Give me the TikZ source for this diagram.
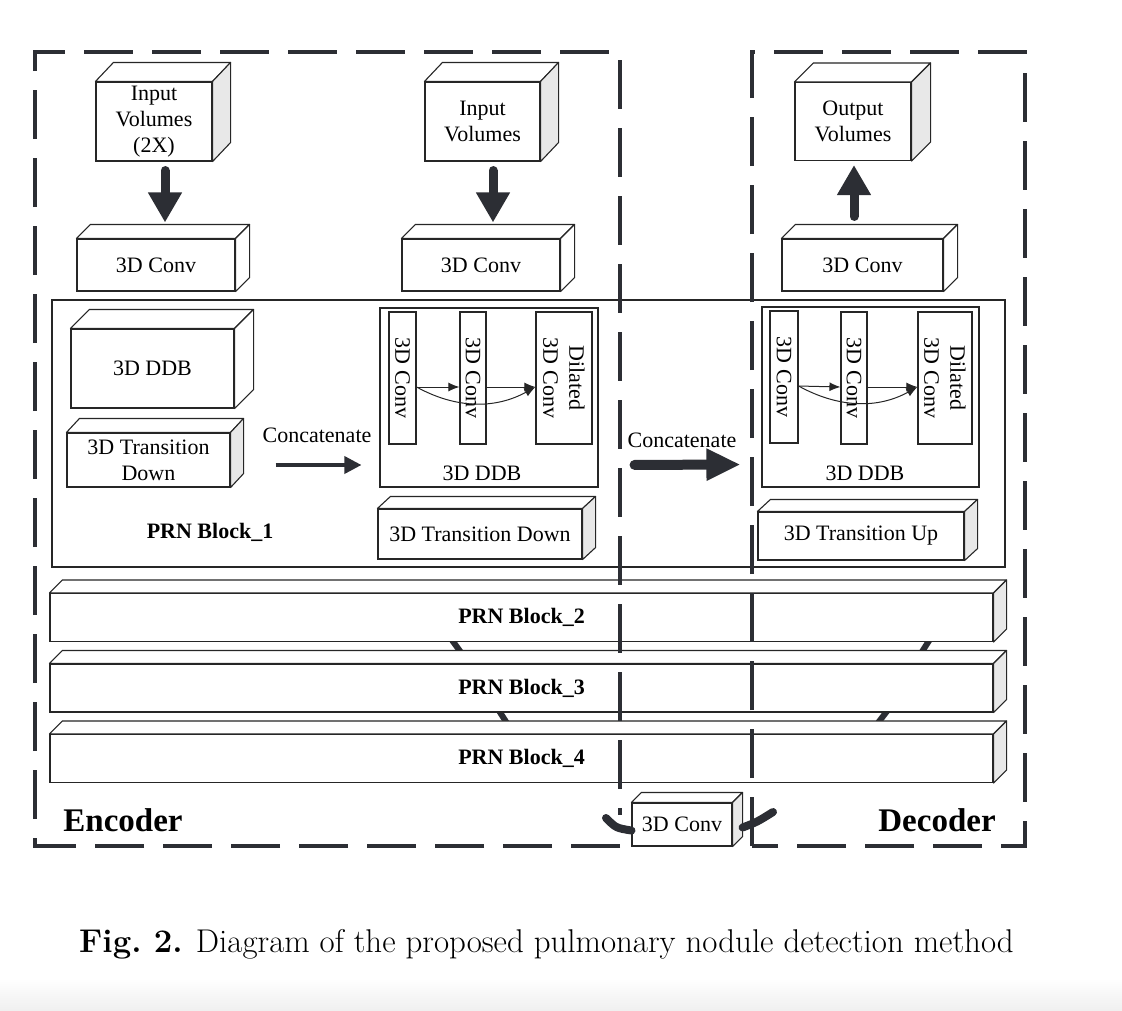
\documentclass[tikz,border=0pt]{standalone}
\usepackage{fontspec}
\usepackage{xcolor}
\usepackage{tikz}
\usetikzlibrary{arrows.meta}
\newfontfamily\timesfont{Liberation Serif}
\definecolor{inkgray}{RGB}{44,46,52}
\definecolor{sidegray}{RGB}{232,232,232}
\tikzstyle{cube}=[fill=white, draw=black!85, line width=1.1pt, shape=rectangle, inner sep=0pt, align=center, font=\timesfont\fontsize{22}{26}\selectfont]
\tikzstyle{bold cube}=[cube, font=\timesfont\bfseries\fontsize{22}{26}\selectfont]
\tikzstyle{slab}=[cube, rotate=-90]
\tikzstyle{ddb frame}=[draw=black!85, line width=1.1pt, shape=rectangle, inner sep=0pt]
\tikzstyle{plain text}=[inner sep=0pt, font=\timesfont\fontsize{22}{26}\selectfont]
\tikzstyle{bold text}=[inner sep=0pt, font=\timesfont\bfseries\fontsize{22}{26}\selectfont]
\tikzstyle{big text}=[inner sep=0pt, font=\timesfont\bfseries\fontsize{33}{38}\selectfont]
\tikzstyle{dashed edge}=[-, draw=inkgray, line width=4pt, dash pattern=on 49pt off 19pt]
\tikzstyle{fat arrow}=[-{Triangle[width=32pt,length=30pt]}, draw=inkgray, line width=9pt, line cap=round]
\tikzstyle{wide arrow}=[-{Triangle[width=30pt,length=34pt]}, draw=inkgray, line width=10pt, line cap=round]
\tikzstyle{mid arrow}=[-{Triangle[width=17pt,length=17pt]}, draw=inkgray, line width=3.5pt]
\tikzstyle{thin arrow}=[-{Latex[width=9pt,length=11pt]}, draw=black!85, line width=1pt]
\tikzstyle{skip edge}=[-, draw=inkgray, line width=6pt]
\tikzstyle{swoosh}=[-, draw=inkgray, line width=8pt, line cap=round]
% top and side face of a box node: name, depth x, depth y, side colour
\newcommand{\cubefaces}[4]{%
  \draw [draw=black!85, line width=1.1pt, fill=white, line join=round] (#1.north west) -- ++(#2,-#3) -- ([shift={(#2,-#3)}]#1.north east) -- (#1.north east) -- cycle;
  \draw [draw=black!85, line width=1.1pt, fill=#4, line join=round] (#1.north east) -- ++(#2,-#3) -- ([shift={(#2,-#3)}]#1.south east) -- (#1.south east) -- cycle;}
\pgfdeclarelayer{backlayer}
\pgfdeclarelayer{nodelayer}
\pgfdeclarelayer{edgelayer}
\pgfsetlayers{backlayer,nodelayer,edgelayer,main}
\begin{document}
\begin{tikzpicture}[x=1pt, y=-1pt]
	\useasboundingbox (0,0) rectangle (1122,1010);
	\begin{pgfonlayer}{backlayer}
		\shade [top color=white, bottom color=black!6] (0,978) rectangle (1122,1010);
		\coordinate (33) at (449,636);
		\coordinate (34) at (465,658);
		\coordinate (35) at (932,636);
		\coordinate (36) at (918,658);
		\coordinate (37) at (496,706);
		\coordinate (38) at (510,728);
		\coordinate (39) at (891,706);
		\coordinate (40) at (874,728);
		\draw [style=skip edge] (33) -- (34);
		\draw [style=skip edge] (35) -- (36);
		\draw [style=skip edge] (37) -- (38);
		\draw [style=skip edge] (39) -- (40);
	\end{pgfonlayer}
	\begin{pgfonlayer}{nodelayer}
		\node [style=cube, minimum width=116pt, minimum height=79pt] (0) at (154, 121.5) {Input\\Volumes\\(2X)};
		\cubefaces{0}{18}{19}{sidegray}
		\node [style=cube, minimum width=115pt, minimum height=79pt] (1) at (482.5, 121.5) {Input\\Volumes};
		\cubefaces{1}{18}{19}{sidegray}
		\node [style=cube, minimum width=116pt, minimum height=78pt] (2) at (853, 121.5) {Output\\Volumes};
		\cubefaces{2}{19}{19}{sidegray}
		\node [style=cube, minimum width=158pt, minimum height=52pt] (3) at (156, 265) {3D Conv};
		\cubefaces{3}{14}{14}{white}
		\node [style=cube, minimum width=158pt, minimum height=52pt] (4) at (481, 265) {3D Conv};
		\cubefaces{4}{14}{14}{white}
		\node [style=cube, minimum width=161pt, minimum height=52pt] (5) at (862.5, 265) {3D Conv};
		\cubefaces{5}{14}{14}{white}
		\node [style=ddb frame, minimum width=953pt, minimum height=267pt] (6) at (528.5, 433.5) {};
		\node [style=cube, minimum width=163pt, minimum height=79pt] (7) at (152.5, 368.5) {3D DDB};
		\cubefaces{7}{19}{19}{white}
		\node [style=cube, minimum width=163pt, minimum height=54pt] (8) at (148.5, 460) {3D Transition\\Down};
		\cubefaces{8}{13}{14}{sidegray}
		\node [style=plain text] (9) at (317, 435) {Concatenate};
		\node [style=bold text] (10) at (210, 532) {PRN Block\_1};
		\node [style=ddb frame, minimum width=218pt, minimum height=179pt] (11) at (489, 397.5) {};
		\node [style=slab, minimum width=132pt, minimum height=27pt] (12) at (402.5, 378) {3D Conv};
		\node [style=slab, minimum width=132pt, minimum height=26pt] (13) at (473, 378) {3D Conv};
		\node [style=slab, minimum width=132pt, minimum height=56pt] (14) at (564, 378) {Dilated\\3D Conv};
		\node [style=plain text] (15) at (482, 473) {3D DDB};
		\node [style=cube, minimum width=204pt, minimum height=50pt] (16) at (480, 534) {3D Transition Down};
		\cubefaces{16}{13}{12}{sidegray}
		\node [style=plain text] (17) at (682, 440) {Concatenate};
		\node [style=ddb frame, minimum width=217pt, minimum height=180pt] (18) at (870.5, 397) {};
		\node [style=slab, minimum width=132pt, minimum height=28pt] (19) at (784, 377) {3D Conv};
		\node [style=slab, minimum width=132pt, minimum height=26pt] (20) at (854, 378) {3D Conv};
		\node [style=slab, minimum width=132pt, minimum height=54pt] (21) at (945, 378) {Dilated\\3D Conv};
		\node [style=plain text] (22) at (865, 473) {3D DDB};
		\node [style=cube, minimum width=206pt, minimum height=48pt] (23) at (861, 536) {3D Transition Up};
		\cubefaces{23}{13}{12}{sidegray}
		\node [style=bold cube, minimum width=943pt, minimum height=48pt] (24) at (521.5, 617.5) {PRN Block\_2};
		\cubefaces{24}{13}{13}{sidegray}
		\node [style=bold cube, minimum width=943pt, minimum height=48pt] (25) at (521.5, 688) {PRN Block\_3};
		\cubefaces{25}{13}{13}{sidegray}
		\node [style=bold cube, minimum width=943pt, minimum height=48pt] (26) at (521.5, 758.5) {PRN Block\_4};
		\cubefaces{26}{13}{13}{sidegray}
		\node [style=cube, minimum width=100pt, minimum height=43pt] (27) at (682, 824.5) {3D Conv};
		\cubefaces{27}{10}{10}{sidegray}
		\node [style=big text] (28) at (123, 820) {Encoder};
		\node [style=big text] (29) at (937, 820) {Decoder};
		\node [inner sep=0pt, font=\fontsize{32.9}{38}\selectfont] (30) at (546.5, 944) {\textbf{Fig.~2.} Diagram of the proposed pulmonary nodule detection method};
	\end{pgfonlayer}
	\begin{pgfonlayer}{edgelayer}
		\draw [style=dashed edge] (620,846) -- (35,846) -- (35,52) -- (620,52) -- (620,815);
		\draw [style=dashed edge] (752,846) -- (752,52) -- (1025,52) -- (1025,846) -- cycle;
		\coordinate (31) at (606,818);
		\coordinate (32) at (773,812);
		\draw [style=swoosh] (31) .. controls (616,828) .. ([yshift=-6pt]27.west);
		\draw [style=swoosh] ([xshift=10pt, yshift=-3pt]27.east) .. controls (757,822) .. (32);
		\draw [style=fat arrow, shorten <=9pt, shorten >=16pt] ([xshift=11pt]0.south) -- ([xshift=11pt]0.south |- 3.north);
		\draw [style=fat arrow, shorten <=9pt, shorten >=16pt] ([xshift=10.5pt]1.south) -- ([xshift=10.5pt]1.south |- 4.north);
		\draw [style=fat arrow, shorten <=22pt, shorten >=4pt] ([xshift=1pt]2.south |- 5.north) -- ([xshift=1pt]2.south);
		\draw [style=mid arrow, shorten <=45pt, shorten >=18pt] ([yshift=-5pt]8.east) -- ([yshift=-5pt]11.west |- 8.east);
		\draw [style=wide arrow, shorten <=36pt, shorten >=21pt] ([yshift=-67.5pt]11.east) -- ([yshift=-67.5pt]18.west);
		\draw [style=thin arrow] ([yshift=-9pt]12.north) -- ([yshift=-9pt]13.south);
		\draw [style=thin arrow] ([yshift=-9pt]13.north) -- ([yshift=-9pt]14.south);
		\draw [style=thin arrow] ([yshift=-9pt]12.north) .. controls +(40,22) and +(-40,22) .. ([yshift=-9pt]14.south);
		\draw [style=thin arrow] ([yshift=-9pt]19.north) -- ([yshift=-9pt]20.south);
		\draw [style=thin arrow] ([yshift=-9pt]20.north) -- ([yshift=-9pt]21.south);
		\draw [style=thin arrow] ([yshift=-9pt]19.north) .. controls +(40,22) and +(-40,22) .. ([yshift=-9pt]21.south);
	\end{pgfonlayer}
\end{tikzpicture}
\end{document}
